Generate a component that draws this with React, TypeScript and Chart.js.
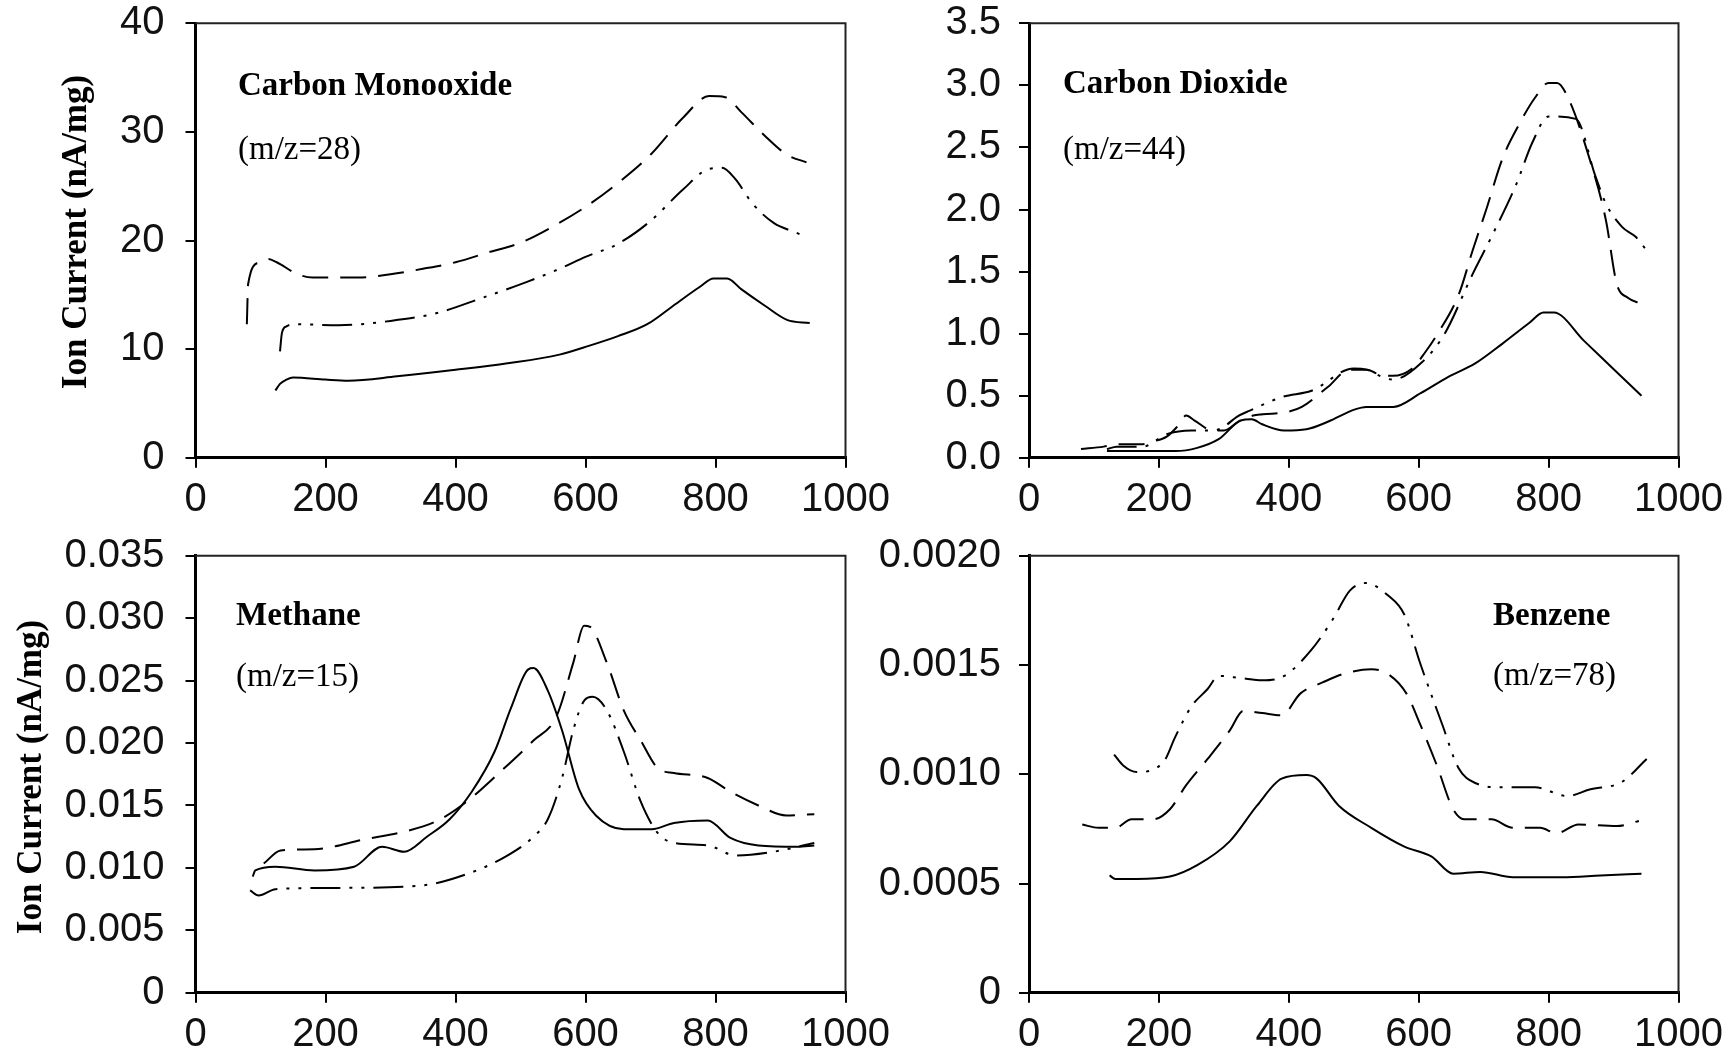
import { useEffect, useRef } from 'react';
import { Chart, registerables } from 'chart.js';

Chart.register(...registerables);

const TICK_FONT = "'Liberation Sans Narrow', 'Arial Narrow', 'Liberation Sans', Arial, sans-serif";
const SERIF = "'Liberation Serif', 'Times New Roman', serif";

// ---------- shared axis ticks ----------
const xTicks = [0, 200, 400, 600, 800, 1000];
const xTickLabels = ['0', '200', '400', '600', '800', '1000'];

const coYTicks = [0, 10, 20, 30, 40];
const coYLabels = ['0', '10', '20', '30', '40'];
const co2YTicks = [0, 0.5, 1, 1.5, 2, 2.5, 3, 3.5];
const co2YLabels = ['0.0', '0.5', '1.0', '1.5', '2.0', '2.5', '3.0', '3.5'];
const chYTicks = [0, 0.005, 0.01, 0.015, 0.02, 0.025, 0.03, 0.035];
const chYLabels = ['0', '0.005', '0.010', '0.015', '0.020', '0.025', '0.030', '0.035'];
const bzYTicks = [0, 0.0005, 0.001, 0.0015, 0.002];
const bzYLabels = ['0', '0.0005', '0.0010', '0.0015', '0.0020'];

// ---------- Carbon monoxide (m/z=28) ----------
const coSolidX = [123, 130, 140, 150, 200, 235, 310, 400, 480, 560, 605, 650, 695, 735, 775, 797, 818, 840, 876, 910, 945];
const coSolidY = [6.2, 6.8, 7.2, 7.4, 7.2, 7.1, 7.5, 8.1, 8.7, 9.5, 10.3, 11.2, 12.3, 14.0, 15.7, 16.5, 16.5, 15.5, 14.0, 12.7, 12.4];
const coDashX = [79, 81, 98, 112, 125, 157, 180, 250, 300, 350, 400, 450, 500, 550, 600, 650, 700, 750, 790, 815, 840, 875, 910, 940];
const coDashY = [12.3, 16.0, 18.0, 18.3, 18.0, 16.9, 16.6, 16.6, 16.9, 17.4, 18.0, 18.9, 19.8, 21.3, 23.1, 25.3, 27.9, 31.3, 33.3, 33.2, 31.8, 29.7, 27.9, 27.2];
const coDashDotX = [130, 133, 140, 155, 220, 300, 370, 440, 510, 560, 600, 650, 700, 750, 790, 810, 830, 857, 890, 925, 940];
const coDashDotY = [9.8, 11.5, 12.1, 12.3, 12.2, 12.6, 13.3, 14.7, 16.2, 17.4, 18.5, 19.7, 21.8, 24.7, 26.6, 26.7, 25.7, 23.4, 21.6, 20.7, 20.3];

// ---------- Carbon dioxide (m/z=44) ----------
const co2SolidX = [120, 225, 259, 292, 326, 343, 359, 393, 427, 460, 502, 519, 561, 603, 645, 687, 729, 771, 792, 808, 855, 897, 943];
const co2SolidY = [0.054, 0.054, 0.08, 0.15, 0.3, 0.31, 0.27, 0.22, 0.23, 0.29, 0.39, 0.41, 0.41, 0.52, 0.65, 0.76, 0.92, 1.09, 1.17, 1.17, 0.94, 0.73, 0.5];
const co2DashX = [80, 115, 135, 175, 190, 212, 228, 242, 255, 283, 300, 325, 345, 360, 398, 420, 460, 493, 521, 535, 560, 590, 610, 628, 662, 683, 704, 729, 754, 779, 800, 813, 830, 863, 888, 905, 922, 943];
const co2DashY = [0.07, 0.09, 0.11, 0.11, 0.13, 0.17, 0.25, 0.34, 0.3, 0.22, 0.22, 0.3, 0.34, 0.35, 0.37, 0.41, 0.57, 0.71, 0.71, 0.68, 0.66, 0.72, 0.85, 0.99, 1.32, 1.67, 2.0, 2.41, 2.68, 2.9, 3.02, 3.02, 2.9, 2.41, 1.92, 1.4, 1.29, 1.24];
const co2DashDotX = [120, 135, 175, 212, 250, 285, 300, 320, 340, 390, 435, 500, 520, 540, 560, 605, 640, 683, 712, 750, 775, 800, 842, 872, 888, 913, 934, 951];
const co2DashDotY = [0.07, 0.09, 0.09, 0.19, 0.22, 0.22, 0.25, 0.33, 0.38, 0.49, 0.54, 0.72, 0.71, 0.66, 0.63, 0.77, 1.0, 1.48, 1.78, 2.2, 2.54, 2.75, 2.73, 2.27, 2.05, 1.86, 1.78, 1.67];

// ---------- Methane (m/z=15) ----------
const chSolidX = [88, 92, 123, 183, 244, 287, 321, 356, 391, 425, 460, 486, 512, 520, 542, 564, 590, 616, 659, 702, 736, 788, 823, 866, 926, 952];
const chSolidY = [0.0093, 0.0098, 0.0101, 0.0098, 0.0101, 0.0117, 0.0113, 0.0125, 0.0139, 0.0161, 0.0193, 0.0229, 0.0259, 0.026, 0.0242, 0.021, 0.0163, 0.0142, 0.0131, 0.0131, 0.0136, 0.0138, 0.0124, 0.0118, 0.0117, 0.0118];
const chDashX = [105, 131, 183, 261, 321, 373, 417, 469, 520, 555, 581, 598, 607, 633, 659, 685, 711, 736, 788, 823, 866, 909, 952];
const chDashY = [0.01035, 0.0114, 0.0115, 0.0123, 0.0129, 0.0138, 0.0153, 0.0177, 0.0202, 0.0221, 0.0264, 0.0294, 0.0293, 0.0264, 0.0226, 0.0202, 0.018, 0.0176, 0.0172, 0.0161, 0.015, 0.0142, 0.0143];
const chDashDotX = [84, 97, 123, 218, 348, 417, 477, 520, 542, 564, 581, 598, 611, 633, 659, 685, 711, 736, 788, 831, 890, 952];
const chDashDotY = [0.0082, 0.0078, 0.0083, 0.0084, 0.0086, 0.0095, 0.0109, 0.0125, 0.0139, 0.0172, 0.021, 0.0234, 0.0237, 0.0226, 0.0193, 0.0153, 0.0128, 0.012, 0.0118, 0.011, 0.0113, 0.012];

// ---------- Benzene (m/z=78) ----------
const bzSolidX = [124, 133, 166, 217, 259, 309, 351, 389, 427, 443, 477, 527, 578, 620, 653, 695, 745, 821, 880, 943];
const bzSolidY = [0.000537, 0.000521, 0.000521, 0.000532, 0.000584, 0.000693, 0.000856, 0.00098, 0.000996, 0.00098, 0.000856, 0.000755, 0.000669, 0.000623, 0.000545, 0.000553, 0.000529, 0.000529, 0.000537, 0.000545];
const bzDashX = [82, 107, 133, 158, 191, 217, 242, 275, 309, 330, 359, 389, 418, 452, 485, 527, 552, 581, 602, 628, 653, 670, 712, 745, 787, 812, 846, 905, 939];
const bzDashY = [0.00077, 0.000755, 0.000755, 0.000794, 0.000794, 0.00084, 0.00095, 0.00107, 0.0012, 0.00129, 0.00128, 0.00127, 0.00137, 0.00142, 0.00146, 0.00148, 0.00146, 0.00137, 0.00123, 0.00104, 0.00084, 0.000794, 0.000794, 0.000755, 0.000755, 0.00073, 0.00077, 0.000763, 0.000786];
const bzDashDotX = [131, 145, 166, 208, 225, 250, 275, 292, 326, 359, 393, 435, 468, 494, 519, 552, 578, 602, 636, 661, 687, 729, 779, 829, 863, 913, 951];
const bzDashDotY = [0.00109, 0.00104, 0.00101, 0.00106, 0.00117, 0.00131, 0.00139, 0.00145, 0.00144, 0.00143, 0.00145, 0.00157, 0.00171, 0.00184, 0.001875, 0.00182, 0.00173, 0.00151, 0.00123, 0.00103, 0.00096, 0.00094, 0.00094, 0.0009, 0.00093, 0.000965, 0.00107];

const SOLID: number[] = [];
const DASHED = [26, 12];
const DASH_DOT_DOT = [30, 9, 3, 9, 3, 9];

type Series = { x: number[]; y: number[]; dash: number[] };
type TextItem = { text: string; dx: number; dy: number; font: string };
type Geom = { cx: number; cy: number; cw: number; ch: number; L: number; T: number; R: number; B: number; labelPad: number };

const TITLE_FONT = `bold 33px ${SERIF}`;
const SUB_FONT = `33px ${SERIF}`;
const YTITLE_FONT = `bold 35px ${SERIF}`;

function Panel(props: {
  geom: Geom;
  yMax: number;
  yTicks: number[];
  yLabels: string[];
  series: Series[];
  texts: TextItem[];
  yTitle?: { x: number; y: number; text: string };
}) {
  const ref = useRef<HTMLCanvasElement>(null);
  const { geom: g, yMax, yTicks, yLabels, series, texts, yTitle } = props;

  useEffect(() => {
    const canvas = ref.current;
    if (!canvas) return;
    const decor = {
      id: 'panelDecor',
      afterDraw(chart: any) {
        const { ctx, chartArea: a } = chart;
        ctx.save();
        ctx.strokeStyle = '#222';
        ctx.lineWidth = 2;
        ctx.beginPath();
        ctx.moveTo(a.left, a.top);
        ctx.lineTo(a.right, a.top);
        ctx.lineTo(a.right, a.bottom);
        ctx.stroke();
        ctx.fillStyle = '#000';
        ctx.textAlign = 'left';
        ctx.textBaseline = 'alphabetic';
        texts.forEach((t) => {
          ctx.font = t.font;
          ctx.fillText(t.text, a.left + t.dx, a.top + t.dy);
        });
        if (yTitle) {
          ctx.translate(yTitle.x - g.cx, yTitle.y - g.cy);
          ctx.rotate(-Math.PI / 2);
          ctx.font = YTITLE_FONT;
          ctx.textAlign = 'center';
          ctx.textBaseline = 'middle';
          ctx.fillText(yTitle.text, 0, 0);
        }
        ctx.restore();
      },
    };

    const chart = new Chart(canvas, {
      type: 'line',
      data: {
        datasets: series.map((s) => ({
          data: s.x.map((x, i) => ({ x, y: s.y[i] })),
          borderColor: '#000',
          borderWidth: 2,
          borderDash: s.dash,
          pointRadius: 0,
          fill: false,
          cubicInterpolationMode: 'monotone' as const,
        })),
      },
      options: {
        responsive: false,
        animation: false,
        devicePixelRatio: 1,
        layout: { padding: { top: g.T - g.cy, right: g.cx + g.cw - g.R, left: 0, bottom: 0 } },
        plugins: { legend: { display: false }, tooltip: { enabled: false } },
        scales: {
          x: {
            type: 'linear',
            min: 0,
            max: 1000,
            afterBuildTicks: (s: any) => {
              s.ticks = xTicks.map((v) => ({ value: v }));
            },
            afterFit: (s: any) => {
              s.height = g.cy + g.ch - g.B;
            },
            ticks: {
              callback: (_v: any, i: number) => xTickLabels[i],
              font: { family: TICK_FONT, size: 40, lineHeight: 1 },
              color: '#111',
              padding: 12,
              maxRotation: 0,
              autoSkip: false,
            },
            grid: { display: true, drawOnChartArea: false, drawTicks: true, tickLength: 10, color: '#000', lineWidth: 2 },
            border: { display: true, color: '#000', width: 3 },
          },
          y: {
            type: 'linear',
            min: 0,
            max: yMax,
            afterBuildTicks: (s: any) => {
              s.ticks = yTicks.map((v) => ({ value: v }));
            },
            afterFit: (s: any) => {
              s.width = g.L - g.cx;
            },
            ticks: {
              callback: (_v: any, i: number) => yLabels[i],
              font: { family: TICK_FONT, size: 40, lineHeight: 1 },
              color: '#111',
              padding: g.labelPad,
              autoSkip: false,
            },
            grid: { display: true, drawOnChartArea: false, drawTicks: true, tickLength: 10, color: '#000', lineWidth: 2 },
            border: { display: true, color: '#000', width: 3 },
          },
        },
      },
      plugins: [decor],
    });
    return () => chart.destroy();
  }, []);

  return (
    <canvas
      ref={ref}
      width={g.cw}
      height={g.ch}
      style={{ position: 'absolute', left: g.cx, top: g.cy, width: g.cw, height: g.ch }}
    />
  );
}

const Y_TITLE = 'Ion Current (nA/mg)';

export default function App() {
  const gTL: Geom = { cx: 0, cy: -20, cw: 905, ch: 540, L: 195.5, T: 23.3, R: 845.5, B: 457.8, labelPad: 21 };
  const gTR: Geom = { cx: 830, cy: -20, cw: 905, ch: 540, L: 1029, T: 23.3, R: 1680, B: 457.8, labelPad: 18 };
  const gBL: Geom = { cx: 0, cy: 512, cw: 905, ch: 541, L: 195.5, T: 555.7, R: 845.5, B: 992.8, labelPad: 21 };
  const gBR: Geom = { cx: 830, cy: 512, cw: 905, ch: 541, L: 1029, T: 555.7, R: 1680, B: 992.8, labelPad: 18 };

  return (
    <div style={{ position: 'absolute', left: 0, top: 0, width: 1735, height: 1053, background: '#fff', overflow: 'hidden' }}>
      <Panel
        geom={gTL}
        yMax={40}
        yTicks={coYTicks}
        yLabels={coYLabels}
        series={[
          { x: coDashX, y: coDashY, dash: DASHED },
          { x: coDashDotX, y: coDashDotY, dash: DASH_DOT_DOT },
          { x: coSolidX, y: coSolidY, dash: SOLID },
        ]}
        texts={[
          { text: 'Carbon Monooxide', dx: 42.5, dy: 71.7, font: TITLE_FONT },
          { text: '(m/z=28)', dx: 42.5, dy: 136, font: SUB_FONT },
        ]}
        yTitle={{ x: 77, y: 232, text: Y_TITLE }}
      />
      <Panel
        geom={gTR}
        yMax={3.5}
        yTicks={co2YTicks}
        yLabels={co2YLabels}
        series={[
          { x: co2DashX, y: co2DashY, dash: DASHED },
          { x: co2DashDotX, y: co2DashDotY, dash: DASH_DOT_DOT },
          { x: co2SolidX, y: co2SolidY, dash: SOLID },
        ]}
        texts={[
          { text: 'Carbon Dioxide', dx: 34, dy: 70, font: TITLE_FONT },
          { text: '(m/z=44)', dx: 34, dy: 136, font: SUB_FONT },
        ]}
      />
      <Panel
        geom={gBL}
        yMax={0.035}
        yTicks={chYTicks}
        yLabels={chYLabels}
        series={[
          { x: chDashX, y: chDashY, dash: DASHED },
          { x: chDashDotX, y: chDashDotY, dash: DASH_DOT_DOT },
          { x: chSolidX, y: chSolidY, dash: SOLID },
        ]}
        texts={[
          { text: 'Methane', dx: 40.5, dy: 69.6, font: TITLE_FONT },
          { text: '(m/z=15)', dx: 40.5, dy: 130, font: SUB_FONT },
        ]}
        yTitle={{ x: 32, y: 777, text: Y_TITLE }}
      />
      <Panel
        geom={gBR}
        yMax={0.002}
        yTicks={bzYTicks}
        yLabels={bzYLabels}
        series={[
          { x: bzDashX, y: bzDashY, dash: DASHED },
          { x: bzDashDotX, y: bzDashDotY, dash: DASH_DOT_DOT },
          { x: bzSolidX, y: bzSolidY, dash: SOLID },
        ]}
        texts={[
          { text: 'Benzene', dx: 464, dy: 69.6, font: TITLE_FONT },
          { text: '(m/z=78)', dx: 464, dy: 129, font: SUB_FONT },
        ]}
      />
    </div>
  );
}
